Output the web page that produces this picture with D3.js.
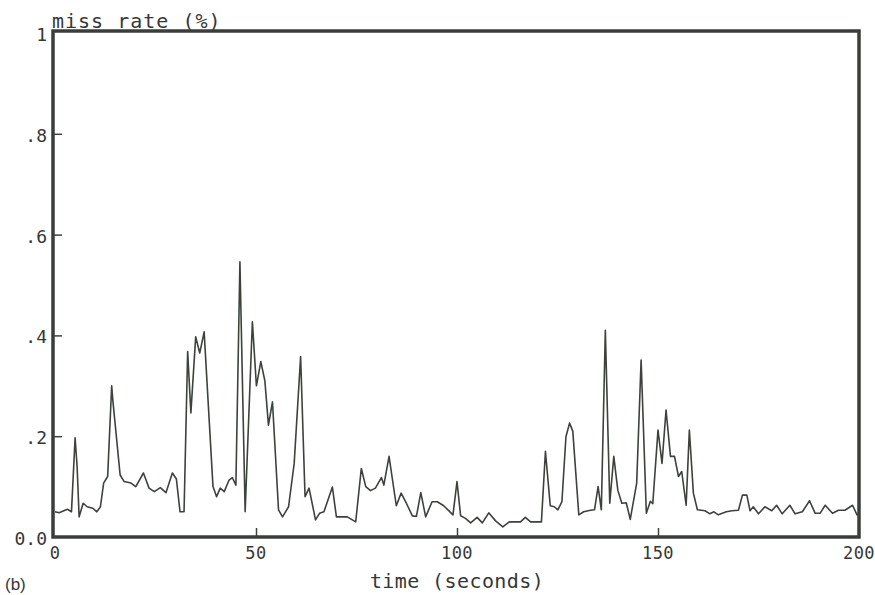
<!DOCTYPE html>
<html>
<head>
<meta charset="utf-8">
<script src="https://cdn.jsdelivr.net/npm/d3@7"></script>
<style>
  body { margin:0; background:#fff; }
  text { fill:#363836; }
</style>
</head>
<body>
<div id="chart-area"></div>
<script>
// time (seconds) and miss rate
var times = [0, 1, 3.1, 4.1, 5, 5.5, 6, 7, 8, 9.4, 10.4, 11.3, 12.1, 13.1, 14.1, 14.4, 16.2, 17.2, 18.9, 20.1,
  22, 23.4, 24.7, 26.2, 27.6, 29.2, 30.2, 31.1, 32.1, 33, 33.8, 35, 36, 37.1, 39.3, 40.2, 41.1, 42.1, 43.3, 44.1,
  45, 46, 47.3, 49.1, 50.1, 51.2, 52.2, 53.1, 54.1, 55.6, 56.6, 58.1, 59.5, 61.1, 62.2, 63.2, 64.8, 65.8, 66.9, 69,
  70, 72.7, 74.8, 76.2, 77.3, 78.5, 79.7, 81.2, 81.8, 83.1, 84.9, 86.1, 87.4, 88.9, 89.9, 91, 92.2, 93.8, 95.1, 96.7,
  99, 100, 100.9, 102.1, 103.4, 105, 106.3, 107.9, 109.6, 111.4, 113, 115.8, 117, 118.3, 121, 122, 123.2, 124.2, 125.1, 126.1,
  127.1, 128, 128.8, 130.3, 131.5, 133.2, 134.2, 135.1, 135.9, 136.9, 138, 139, 140, 141, 142.1, 143.1, 144.7, 145.8, 147.1, 148.1,
  148.7, 150, 151, 152, 153.1, 154.1, 155.1, 155.9, 157, 157.8, 158.8, 159.8, 161.7, 162.9, 163.9, 165, 167, 168.4, 170, 171,
  172.1, 172.9, 173.7, 175, 176.6, 178.3, 179.5, 180.9, 182.8, 184.1, 185.9, 187.7, 189.1, 190.3, 191.6, 193.4, 194.9, 196.5, 198.4, 199.5,
  200];
var missRate = [.05, .048, .055, .05, .197, .14, .04, .067, .06, .057, .05, .06, .107, .12, .30, .27, .123, .11, .107, .10,
  .127, .097, .09, .098, .088, .127, .115, .05, .05, .368, .246, .397, .365, .407, .10, .08, .097, .09, .113, .118,
  .103, .546, .05, .427, .30, .348, .31, .222, .268, .054, .04, .06, .146, .358, .08, .097, .034, .047, .05, .099,
  .04, .04, .03, .136, .10, .092, .097, .118, .103, .16, .062, .087, .067, .042, .041, .088, .04, .07, .07, .062,
  .044, .11, .042, .037, .028, .039, .028, .048, .032, .02, .03, .03, .039, .03, .03, .17, .062, .06, .054, .07,
  .199, .226, .21, .044, .05, .053, .054, .10, .054, .41, .067, .16, .093, .067, .068, .035, .107, .351, .047, .071,
  .066, .212, .146, .252, .16, .16, .12, .13, .063, .212, .087, .054, .052, .046, .05, .044, .05, .052, .053, .083,
  .083, .052, .06, .046, .06, .052, .063, .046, .063, .046, .05, .072, .047, .047, .063, .047, .053, .053, .063, .044,
  .045];
var xTicks = [0, 50, 100, 150, 200];
var yTicks = [0, 0.2, 0.4, 0.6, 0.8, 1];
var yTickLabels = ["0.0", ".2", ".4", ".6", ".8", "1"];

var data = times.map((t, i) => { return { t: t, v: missRate[i] }; });

var W = 875, H = 595;
var mono = "'DejaVu Sans Mono', monospace";

var svg = d3.select("#chart-area")
            .append("svg")
            .attr("width", W)
            .attr("height", H);

// scales
var xScale = d3.scaleLinear().domain([0, 200]).range([55, 859]);
var yScale = d3.scaleLinear().domain([0, 1]).range([537, 33]);

// the line
var line = d3.line()
             .x(d => xScale(d.t))
             .y(d => yScale(d.v));

svg.append("path")
   .datum(data)
   .attr("d", line)
   .attr("fill", "none")
   .attr("stroke", "#3d423d")
   .attr("stroke-width", 1.6)
   .attr("stroke-linejoin", "round");

// y axis ticks, inward
var yAxis = d3.axisRight(yScale)
              .tickValues(yTicks.slice(1, 5))
              .tickSize(9)
              .tickFormat("");
svg.append("g")
   .attr("transform", "translate(53,0)")
   .call(yAxis)
   .call(g => g.select(".domain").remove())
   .selectAll("line").attr("stroke", "#3d423d").attr("stroke-width", 1.5);

// x axis ticks, inward
var xAxis = d3.axisTop(xScale)
              .tickValues(xTicks.slice(1, 4))
              .tickSize(9)
              .tickFormat("");
svg.append("g")
   .attr("transform", "translate(0,537)")
   .call(xAxis)
   .call(g => g.select(".domain").remove())
   .selectAll("line").attr("stroke", "#3d423d").attr("stroke-width", 1.5);

// frame
svg.append("rect")
   .attr("x", 53)
   .attr("y", 31)
   .attr("width", 859 - 53)
   .attr("height", 537 - 31)
   .attr("fill", "none")
   .attr("stroke", "#3a3e3a")
   .attr("stroke-width", 3.5);

// y tick labels
svg.selectAll(".ylab")
   .data(yTicks)
   .enter()
   .append("text")
   .attr("class", "ylab")
   .attr("x", 47)
   .attr("y", d => yScale(d) + 8)
   .attr("text-anchor", "end")
   .attr("font-family", mono)
   .attr("font-size", "18px")
   .text((d, i) => yTickLabels[i]);

// x tick labels
svg.selectAll(".xlab")
   .data(xTicks)
   .enter()
   .append("text")
   .attr("class", "xlab")
   .attr("x", d => xScale(d))
   .attr("y", 559)
   .attr("text-anchor", "middle")
   .attr("font-family", mono)
   .attr("font-size", "17px")
   .attr("letter-spacing", "0.5px")
   .text(d => d);

// axis titles
svg.append("text")
   .attr("x", 52)
   .attr("y", 28)
   .attr("font-family", mono)
   .attr("font-size", "20px")
   .attr("letter-spacing", "1px")
   .text("miss rate (%)");

svg.append("text")
   .attr("x", xScale(100))
   .attr("y", 588)
   .attr("text-anchor", "middle")
   .attr("font-family", mono)
   .attr("font-size", "20px")
   .attr("letter-spacing", "0.4px")
   .text("time (seconds)");

svg.append("text")
   .attr("x", 5)
   .attr("y", 590)
   .attr("font-family", "'Liberation Sans', Arial, sans-serif")
   .attr("font-size", "17px")
   .text("(b)");
</script>
</body>
</html>
